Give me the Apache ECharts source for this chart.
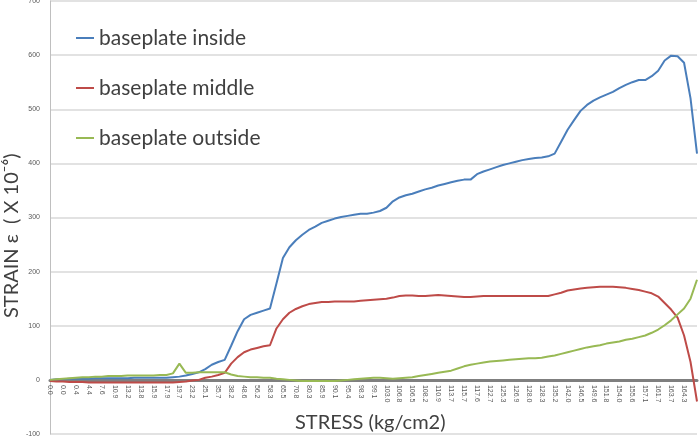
<!DOCTYPE html>
<html>
<head>
<meta charset="utf-8">
<script src="https://cdn.jsdelivr.net/npm/echarts@6/dist/echarts.min.js"></script>
<style>html,body{margin:0;padding:0;background:#fff;}#c{width:699px;height:438px;}</style>
</head>
<body>
<div id="c"></div>
<script>
// Stress tick labels (kg/cm2), one per category tick
const stressLabels = ["0.0","0.0","0.4","4.4","7.6","10.9","13.2","13.8","15.9","17.9","19.7","23.2","25.1","35.7","38.2","48.6","56.2","58.3","65.5","70.8","80.3","85.9","90.1","95.4","98.3","99.1","103.0","106.8","106.5","108.2","110.9","113.7","115.7","117.6","122.7","125.3","126.9","128.0","128.3","135.2","142.0","146.5","149.6","151.8","154.0","155.6","157.1","161.7","163.7","164.3"];

// sample positions along the category axis (half-tick steps, 0 .. 50)
const samplePos = Array.from({length: 101}, (_, k) => k / 2);

// Strain (x10^-6) read at each sample position
const inside = [0,1,1,2,2,2,2,3,3,3,3,3,3,4,4,4,4,4,4,5,6,8,11,14,20,28,33,37,63,90,112,120,124,128,132,178,225,245,258,268,277,283,290,294,298,301,303,305,307,307,309,312,318,330,337,341,344,348,352,355,359,362,365,368,370,370,380,385,389,393,397,400,403,406,408,410,411,413,418,440,462,480,497,508,516,522,527,532,539,545,550,554,554,561,571,590,599,598,586,520,418];
const middle = [-2,-3,-3,-4,-4,-4,-5,-5,-5,-5,-5,-5,-5,-5,-5,-5,-5,-5,-5,-5,-4,-3,-1,0,4,6,9,13,30,42,51,56,59,62,64,95,112,124,131,136,140,142,144,144,145,145,145,145,146,147,148,149,150,152,155,156,156,155,155,156,157,156,155,154,153,153,154,155,155,155,155,155,155,155,155,155,155,155,158,161,165,167,169,170,171,172,172,172,171,170,168,166,163,160,154,142,130,115,82,33,-40];
const outside = [0,1,2,3,4,5,5,6,6,7,7,7,8,8,8,8,8,9,9,12,30,13,13,14,14,14,14,14,10,7,6,5,5,4,4,2,1,0,-1,-2,-2,-2,-2,-2,-2,-1,0,1,2,3,4,4,3,2,3,4,5,7,9,11,13,15,17,21,25,28,30,32,34,35,36,37,38,39,40,40,41,43,45,48,51,54,57,60,62,64,67,69,71,74,76,79,82,87,93,101,110,121,132,150,185];

const seriesNames = ["baseplate inside", "baseplate middle", "baseplate outside"];
const seriesColors = ["#4a7ebb", "#be4b48", "#98b954"];

const pair = arr => samplePos.map((x, i) => [x, arr[i]]);

const Y_MIN = -100, Y_MAX = 700;
const GRID_TOP = 1, GRID_BOTTOM = 4, H = 438;
const plotH = H - GRID_TOP - GRID_BOTTOM;
const zeroOffset = -plotH * (0 - Y_MIN) / (Y_MAX - Y_MIN);

const chart = echarts.init(document.getElementById('c'), null, {renderer: 'canvas'});
chart.setOption({
  animation: false,
  backgroundColor: '#ffffff',
  grid: {left: 50, right: 2, top: GRID_TOP, bottom: GRID_BOTTOM, containLabel: false, outerBoundsMode: 'none'},
  legend: {
    orient: 'vertical', left: 71, top: 21, itemGap: 26,
    itemWidth: 18, itemHeight: 2, icon: 'rect',
    textStyle: {fontFamily: 'Lato', fontSize: 21, color: '#404040', lineHeight: 24},
    data: seriesNames
  },
  xAxis: {
    type: 'value', min: 0, max: 50, interval: 1, position: 'bottom', offset: zeroOffset,
    axisLine: {onZero: false, lineStyle: {color: '#7f7f7f', width: 3}},
    axisTick: {show: false},
    splitLine: {show: false},
    axisLabel: {
      rotate: -90, fontSize: 7, color: '#595959', margin: 5, fontFamily: 'Liberation Sans',
      formatter: v => (stressLabels[v] !== undefined ? stressLabels[v] : '')
    }
  },
  yAxis: {
    type: 'value', min: Y_MIN, max: Y_MAX, interval: 100,
    axisLine: {show: true, lineStyle: {color: '#bfbfbf', width: 1}},
    axisTick: {show: false},
    splitLine: {lineStyle: {color: '#d9d9d9', width: 1.5}},
    axisLabel: {fontSize: 7, color: '#595959', margin: 10, fontFamily: 'Liberation Sans'}
  },
  graphic: [
    {type: 'text', left: 295, top: 413,
     style: {text: 'STRESS (kg/cm2)', font: '20px Lato', fill: '#404040'}},
    {type: 'text', x: 2, y: 318, rotation: Math.PI / 2,
     style: {text: 'STRAIN ε  ( X 10⁻⁶)', font: '20px Lato', fill: '#404040', textAlign: 'left', textVerticalAlign: 'top'}}
  ],
  series: [inside, middle, outside].map((arr, i) => ({
    name: seriesNames[i], type: 'line', data: pair(arr), showSymbol: false, symbol: 'none',
    lineStyle: {color: seriesColors[i], width: 2}, itemStyle: {color: seriesColors[i]}, z: 3
  }))
});
</script>
</body>
</html>
